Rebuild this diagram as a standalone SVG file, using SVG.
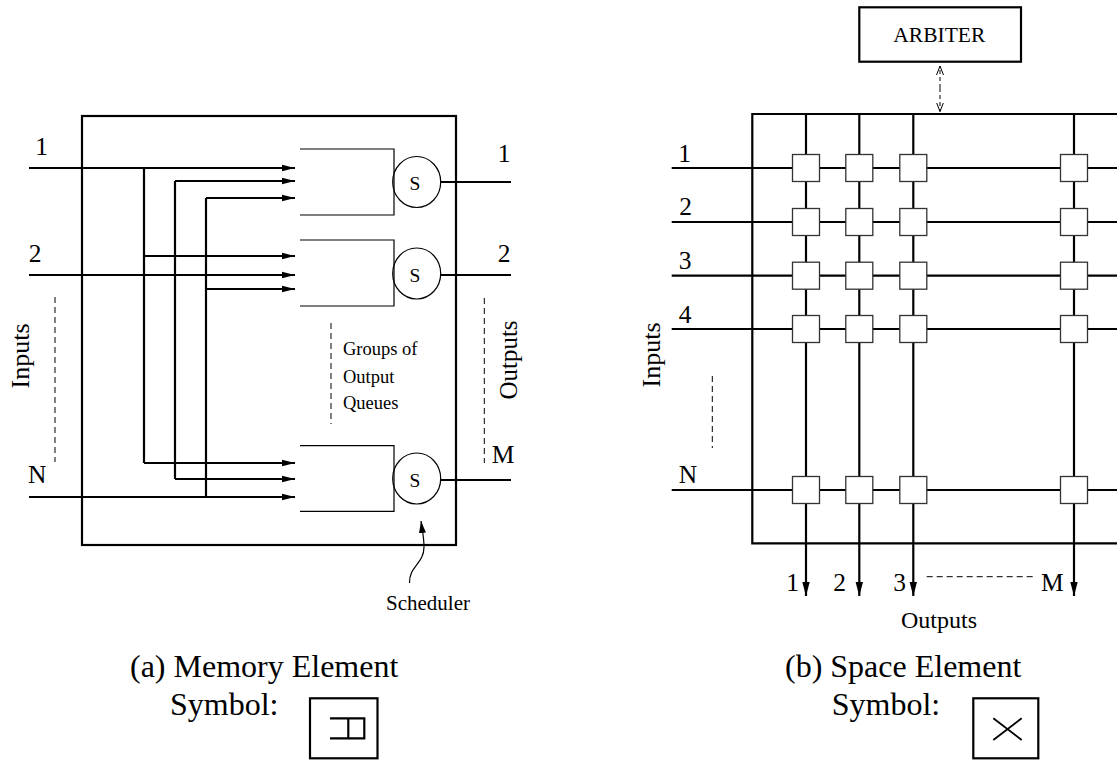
<svg xmlns="http://www.w3.org/2000/svg" width="1117" height="760" viewBox="0 0 1117 760">
<style>
text{font-family:"Liberation Serif","Times New Roman",serif;fill:#000}
.thick{fill:none;stroke:#000;stroke-width:2.2}
.thin{fill:none;stroke:#000;stroke-width:1.2}
.dash{fill:none;stroke:#000;stroke-width:1;stroke-dasharray:6 4}
.sq{fill:#fff;stroke:#333;stroke-width:1.3}
.lbl{font-size:25.5px;text-anchor:middle}
.cap{font-size:32px}
</style>
<defs>
<marker id="ah" markerUnits="userSpaceOnUse" markerWidth="14" markerHeight="8" refX="13" refY="4" orient="auto">
<path d="M0,0.8 L13,4 L0,7.2 Z" fill="#000"/>
</marker>
<marker id="ahd" markerUnits="userSpaceOnUse" markerWidth="15" markerHeight="9" refX="14" refY="4.5" orient="auto">
<path d="M0,0.8 L14,4.5 L0,8.2 Z" fill="#000"/>
</marker>
<marker id="av" markerUnits="userSpaceOnUse" markerWidth="10" markerHeight="8" refX="9" refY="4" orient="auto">
<path d="M0,0.5 L9,4 L0,7.5" fill="none" stroke="#000" stroke-width="1"/>
</marker>
<marker id="as" markerUnits="userSpaceOnUse" markerWidth="14" markerHeight="8" refX="12" refY="4" orient="auto">
<path d="M0,0.5 L12,4 L0,7.5 Z" fill="#000"/>
</marker>
</defs>

<!-- (a) Memory element -->
<g id="memory-box"><rect x="82" y="116" width="374" height="429" class="thick"/></g>

<g id="queue-1">
<path d="M300,149 H394 V215 H300" class="thin"/>
<ellipse cx="416.7" cy="182" rx="24" ry="25.5" class="thin" fill="#fff"/>
<text x="415" y="190" font-size="19.5" text-anchor="middle">S</text>
</g>
<g id="queue-2">
<path d="M300,240 H394 V306 H300" class="thin"/>
<ellipse cx="416.7" cy="273.5" rx="24" ry="25.5" class="thin" fill="#fff"/>
<text x="415" y="282" font-size="19.5" text-anchor="middle">S</text>
</g>
<g id="queue-N">
<path d="M300,445.7 H394 V511.3 H300" class="thin"/>
<ellipse cx="416.7" cy="478.5" rx="24" ry="25.5" class="thin" fill="#fff"/>
<text x="415" y="487" font-size="19.5" text-anchor="middle">S</text>
</g>

<g id="memory-connectors">
<path d="M29,168 H295" class="thick" marker-end="url(#ah)"/>
<path d="M144,168 V463" class="thick"/>
<path d="M144,256 H295" class="thick" marker-end="url(#ah)"/>
<path d="M144,463 H295" class="thick" marker-end="url(#ah)"/>
<path d="M29,275 H295" class="thick" marker-end="url(#ah)"/>
<path d="M175,181 V479" class="thick"/>
<path d="M175,181 H295" class="thick" marker-end="url(#ah)"/>
<path d="M175,479 H295" class="thick" marker-end="url(#ah)"/>
<path d="M29,497 H295" class="thick" marker-end="url(#ah)"/>
<path d="M206,198 V497" class="thick"/>
<path d="M206,198 H295" class="thick" marker-end="url(#ah)"/>
<path d="M206,289 H295" class="thick" marker-end="url(#ah)"/>
<path d="M440.7,182 H511" class="thick"/>
<path d="M440.7,275 H511" class="thick"/>
<path d="M440.7,480 H511" class="thick"/>
<path d="M409.5,583 C409,566 424,564 424,547 C424,537 422,529 421,521" fill="none" stroke="#000" stroke-width="1.2" marker-end="url(#as)"/>
<path d="M55,297 V462" class="dash"/>
<path d="M331,323 V424" class="dash"/>
<path d="M484.3,298 V463" class="dash"/>
</g>

<g id="memory-labels">
<text class="lbl" x="41.7" y="155">1</text>
<text class="lbl" x="35" y="262">2</text>
<text class="lbl" x="37.3" y="482.7">N</text>
<text class="lbl" x="504" y="161.7">1</text>
<text class="lbl" x="504" y="262.3">2</text>
<text class="lbl" x="503" y="462.7">M</text>
<text font-size="26" text-anchor="middle" transform="translate(29.3,356) rotate(-90)">Inputs</text>
<text font-size="25" text-anchor="middle" transform="translate(517,360) rotate(-90)">Outputs</text>
<text font-size="18.5" x="343" y="355">Groups of</text>
<text font-size="18.5" x="343" y="382.7">Output</text>
<text font-size="18.5" x="343" y="409.3">Queues</text>
<text font-size="21" x="386" y="610">Scheduler</text>
<text class="cap" x="130" y="677">(a) Memory Element</text>
<text class="cap" x="170" y="715">Symbol:</text>
</g>
<g id="memory-symbol">
<rect x="310" y="698.3" width="67.5" height="60" class="thick"/>
<path d="M330,718.3 H364.3 V738.3 H330 M348.3,718.3 V738.3" class="thick"/>
</g>

<!-- (b) Space element -->
<g id="arbiter">
<rect x="859.3" y="7.3" width="161.7" height="54.4" class="thick"/>
<text x="939.3" y="41.7" font-size="21.5" text-anchor="middle">ARBITER</text>
</g>
<g id="space-box"><path d="M1130,114 H752.3 V543.3 H1130" class="thick"/></g>

<g id="space-connectors">
<path d="M940,88 V66" fill="none" stroke="#000" stroke-width="1" stroke-dasharray="4 3" marker-end="url(#av)"/>
<path d="M940,88 V111.5" fill="none" stroke="#000" stroke-width="1" stroke-dasharray="4 3" marker-end="url(#av)"/>
<path d="M671.7,168 H1117 M671.7,222 H1117 M671.7,275.7 H1117 M671.7,329 H1117 M671.7,490 H1117" class="thick"/>
<path d="M806,114 V596" class="thick" marker-end="url(#ahd)"/>
<path d="M859.3,114 V596" class="thick" marker-end="url(#ahd)"/>
<path d="M913.3,114 V596" class="thick" marker-end="url(#ahd)"/>
<path d="M1074,114 V596" class="thick" marker-end="url(#ahd)"/>
<path d="M712.3,376 V448" class="dash"/>
<path d="M926.7,576.7 H1033" class="dash"/>
</g>

<g id="crosspoints">
<rect class="sq" x="792.5" y="154.5" width="27" height="27"/>
<rect class="sq" x="845.8" y="154.5" width="27" height="27"/>
<rect class="sq" x="899.8" y="154.5" width="27" height="27"/>
<rect class="sq" x="1060.5" y="154.5" width="27" height="27"/>
<rect class="sq" x="792.5" y="208.5" width="27" height="27"/>
<rect class="sq" x="845.8" y="208.5" width="27" height="27"/>
<rect class="sq" x="899.8" y="208.5" width="27" height="27"/>
<rect class="sq" x="1060.5" y="208.5" width="27" height="27"/>
<rect class="sq" x="792.5" y="262.2" width="27" height="27"/>
<rect class="sq" x="845.8" y="262.2" width="27" height="27"/>
<rect class="sq" x="899.8" y="262.2" width="27" height="27"/>
<rect class="sq" x="1060.5" y="262.2" width="27" height="27"/>
<rect class="sq" x="792.5" y="315.5" width="27" height="27"/>
<rect class="sq" x="845.8" y="315.5" width="27" height="27"/>
<rect class="sq" x="899.8" y="315.5" width="27" height="27"/>
<rect class="sq" x="1060.5" y="315.5" width="27" height="27"/>
<rect class="sq" x="792.5" y="476.5" width="27" height="27"/>
<rect class="sq" x="845.8" y="476.5" width="27" height="27"/>
<rect class="sq" x="899.8" y="476.5" width="27" height="27"/>
<rect class="sq" x="1060.5" y="476.5" width="27" height="27"/>
</g>

<g id="space-labels">
<text class="lbl" x="684.7" y="162.3">1</text>
<text class="lbl" x="685.5" y="215">2</text>
<text class="lbl" x="685" y="269">3</text>
<text class="lbl" x="685" y="323.3">4</text>
<text class="lbl" x="688" y="482.7">N</text>
<text class="lbl" x="792.5" y="590.7">1</text>
<text class="lbl" x="839.5" y="590.7">2</text>
<text class="lbl" x="899.5" y="590.7">3</text>
<text class="lbl" x="1052.3" y="590.7">M</text>
<text font-size="26" text-anchor="middle" transform="translate(660,355) rotate(-90)">Inputs</text>
<text font-size="24" x="939" y="628.3" text-anchor="middle">Outputs</text>
<text class="cap" x="785" y="677">(b) Space Element</text>
<text class="cap" x="831.7" y="715">Symbol:</text>
</g>
<g id="space-symbol">
<rect x="973.3" y="698.3" width="65" height="60" class="thick"/>
<path d="M993.3,718.3 L1021.7,740 M1021.7,718.3 L993.3,740" fill="none" stroke="#000" stroke-width="1.8"/>
</g>
</svg>
